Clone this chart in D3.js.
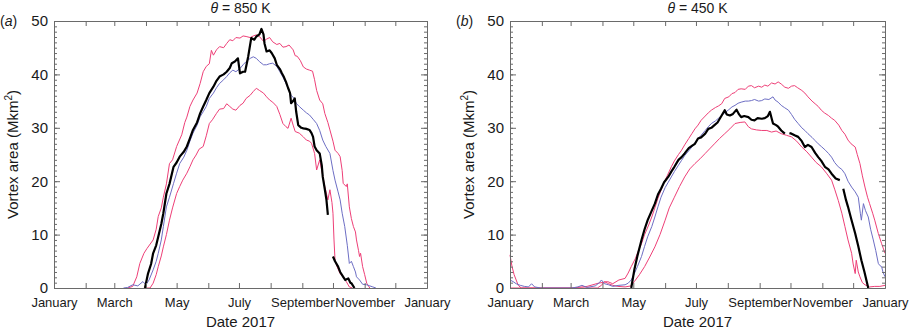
<!DOCTYPE html>
<html><head><meta charset="utf-8">
<script src="https://cdn.jsdelivr.net/npm/d3@7"></script>
<style>
body{margin:0;background:#fff;}
svg{display:block;font-family:"Liberation Sans",Arial,Helvetica,sans-serif;}
</style></head>
<body><svg id="chart" width="915" height="331"></svg>
<script>
// ---------- DATA (day of year 2017, vortex area in Mkm²) ----------
const monthLabels = ["January","March","May","July","September","November","January"];
const yTicks = [0,10,20,30,40,50];
const panelTitles = ["850 K","450 K"];
const panelLetters = ["a","b"];

// Panel (a) θ = 850 K
const a_upper = [[72,0],[77,0.3],[81,2.1],[84,4.6],[88,6.5],[91,7.4],[97,9],[100,11],[102,13.4],[105,15],[107,17],[110,19.5],[113,23.3],[116,24],[120,26.5],[125,28.7],[128,31],[130,32],[133,34],[136,35.2],[140,36.5],[143,38.3],[146,40.5],[149,41.5],[152,42],[154,44.5],[156,43.6],[159,44.6],[162,45.2],[166,45],[169,45.8],[172,46.5],[175,46.3],[178,46.9],[182,46.8],[185,47.2],[188,47.1],[192,46.9],[195,47.2],[198,47.4],[201,47.1],[205,46.2],[208,46.6],[211,46.9],[214,46.1],[218,45.6],[221,45.8],[224,45.1],[227,45.2],[230,45.5],[234,44.6],[236,43.5],[238,43.4],[241,42.6],[244,41.4],[247,41],[250,40.8],[253,40.6],[255,39],[257,37],[260,35.2],[263,34.5],[265,32.7],[268,31],[270,29.6],[273,27.5],[275,25.8],[278,25.2],[280,24.6],[282,22],[283,19.6],[286,19],[287,19.5],[289,15.2],[291,13],[293,11.5],[295,10.5],[296,9],[298,7],[299,5.9],[300,6.5],[302,4],[304,2.5],[306,0.9],[309,0]];
const a_lower = [[88,0],[94,0],[97,0.9],[100,2.5],[102,4],[105,6],[107,7.7],[110,10],[113,12.7],[116,15],[120,17.7],[123,19],[126,20.2],[130,21.5],[133,22.7],[136,24],[139,24.9],[142,26],[146,26.5],[149,28.5],[152,30.8],[155,31.5],[159,32.7],[162,33.5],[166,33.6],[169,34.5],[172,34],[175,33.5],[178,33.3],[182,34.2],[185,34.6],[188,35.5],[192,36.1],[195,36.8],[198,37.4],[201,37],[205,36.5],[208,35.8],[211,35.2],[214,34.8],[218,34],[221,32.5],[224,30.8],[227,30.2],[229,29.9],[232,31.8],[234,30.5],[236,29.3],[240,29],[244,28.3],[247,27.7],[250,27.5],[252,27.1],[255,25.2],[257,22.1],[260,24],[262,22],[265,19],[268,16.5],[270,18.4],[272,16],[273,14],[274,9],[275,5.2],[277,4],[280,2.7],[283,2],[286,1.2],[289,0.2],[292,0]];
const a_mean = [[68,0],[72,0.1],[77,0.6],[82,0.4],[87,1.2],[90,0.6],[93,1.5],[97,3.4],[100,5],[102,6.5],[105,9],[107,11.5],[110,15.2],[113,17],[117,19.6],[120,21.5],[123,23.3],[127,24.5],[130,25.8],[133,27.5],[136,29],[140,30.5],[143,32.1],[146,33],[149,34],[152,35.5],[156,36.5],[159,37.5],[162,38.3],[166,39],[169,39.6],[172,40.3],[175,40.8],[178,40.5],[182,41.1],[185,41.8],[188,42.4],[192,43],[195,43.3],[198,43],[201,42.4],[205,41.8],[208,41.8],[211,42],[214,42.1],[218,41.5],[221,40.5],[224,39.5],[227,38.3],[230,37],[232,36.1],[235,35.5],[237,34.6],[240,34],[244,33.3],[247,32.8],[250,32.4],[254,31.5],[257,30.8],[260,29.5],[263,27.7],[266,26.5],[270,25.2],[273,22],[275,20.2],[278,18],[280,16.5],[282,14],[284.5,11.5],[287,8],[289,4.6],[291,5],[293,4],[295,3],[296,2.1],[299,1.5],[302,0.7],[306,0.6],[309,0.4],[312,0.2],[315,0]];
const a_2017 = [[89,0],[92,2.7],[95,4.5],[97,6.5],[100,8],[102,9.6],[105,12],[107,14],[110,17.7],[113,19.5],[117,22.7],[120,23.5],[123,24.6],[127,25.5],[130,26.5],[133,28],[136,29.6],[140,31],[143,32.7],[146,34],[149,35.2],[152,36.5],[156,37.7],[159,38.8],[162,39.6],[166,40],[169,40.5],[172,41.2],[174,42.1],[177,42.4],[180,43],[182,40.2],[185,40.5],[187,40.5],[190,43.3],[193,46.8],[196,46.5],[198,47.1],[201,47.5],[203,48.5],[205,47.5],[206,45.8],[208,44.3],[211,44.5],[213,44],[216,43],[218,41.8],[221,41],[223,40.2],[225,39.5],[227,38.6],[229,37.5],[231,36.5],[232,34.6],[234,35],[235.6,35.5],[237,33],[239,30.5],[242,30],[244,29.9],[247,29.8],[250,29.6],[252,29],[253.5,28.3],[255,26.5],[257,25.8],[260,25.2],[262,23],[263,20.8],[265,18.5],[266.6,16.5],[268,13.7],[270,null],[273,5.9],[275,5],[278,4],[280,3],[283,2.1],[285,1.5],[288,1.8],[290,1],[291,0.9],[294,0]];

// Panel (b) θ = 450 K
const b_upper = [[0,6.2],[2,4],[4,2.5],[6,1.5],[8,0.5],[11,0],[60,0],[75,0.3],[86,0.9],[95,1.2],[100,0.8],[106,1.5],[112,1.8],[115,2.8],[118,4],[122,5.5],[125,7],[128,8.3],[131,10],[135,11.8],[138,13.3],[141,15],[144,16.8],[147,18.3],[150,19.8],[153,21],[157,22.7],[160,23.8],[164,25],[167,25.8],[170,26.8],[174,28],[177,28.9],[180,29.8],[183,30.5],[186,31.4],[190,32.2],[193,32.8],[196,33.3],[200,33.8],[203,34.1],[206,34.5],[209,35.5],[213,35.8],[216,36.4],[219,36.6],[222,37.2],[225,37.3],[229,37.2],[232,37.8],[235,37.9],[238,37.5],[242,37.8],[245,37.6],[248,38],[251,37.8],[254.6,38.4],[258,38.2],[261,38.6],[264,38.2],[267.5,37.6],[271,37.4],[274,37.8],[277,37.9],[280,37.5],[284,37],[287,36.5],[290,35.8],[294,35],[297,34.5],[300,34],[303,33.3],[306,32.8],[310,32.3],[313,31.8],[316,31.4],[320,30.5],[323,29.5],[326,28.8],[329,27.7],[332,27],[336,26.4],[338,25],[340.6,23.3],[343,21],[345.5,18.9],[348,17],[350,15.8],[353,14],[355,12.7],[358.5,10.2],[361.7,8.3],[365,6.5]];
const b_lower = [[0,0],[85,0],[89,0.5],[92,1.2],[96,0.8],[100,0.5],[105,0.3],[112,0.2],[118,0.4],[121,1.2],[126,2.5],[131,4],[136,5.8],[141,7.7],[146,10],[151,12.7],[155,15],[160,17],[165,19],[170,20.8],[175,22.3],[180,23.3],[185,24.2],[190,25.2],[195,26.2],[199,27],[204,28],[209,28.9],[214,29.8],[219,30.8],[224,31],[228.6,31.1],[232,30.2],[235,29.8],[240,29.6],[245,29.5],[250,29.5],[254.6,29.2],[259,29.4],[264,28.9],[269,28.6],[274,28.3],[279,27.5],[284,26.4],[289,25.5],[293.5,24.5],[298,23.5],[303,22.7],[308,21.5],[313,20.2],[316,18.5],[319.5,16.4],[323,14],[326,11.5],[329,9],[332.5,6.5],[334,4.5],[336,2.7],[337,5.2],[339,3],[340.6,2.1],[343,1],[345.5,0.6],[350,0.2],[355,0.3],[360,0.3],[365,0.5]];
const b_mean = [[0,1.5],[3,1.2],[6,0.8],[10,0.5],[14,0.3],[18,0.2],[21,0.8],[24,0.2],[30,0],[60,0],[66,0.2],[70,0.5],[75,0.1],[83,0.4],[87,1],[89,1.5],[92,0.8],[96,0.6],[100,0.3],[106,0.5],[112,0.6],[115,0.9],[118,1.5],[121,2.7],[124,4],[128,5.9],[131,7.8],[134,9.6],[138,11.5],[141,13.3],[144,15.2],[147,17],[151,18.8],[154,19.8],[157,20.8],[160,21.8],[164,23],[167,23.9],[170,24.8],[174,25.7],[177,26.4],[180,27.2],[183,27.9],[186,28.6],[190,29.5],[193,30.2],[196,30.8],[200,31.3],[203,31.8],[206,32.3],[209,32.8],[213,33.4],[216,33.9],[219,34.2],[222,34.6],[225,34.8],[229,35],[232,35],[235,35.1],[238,35.3],[242,35],[245,35.1],[248,35.4],[252,35.3],[256,35.8],[258,35.2],[261,34.8],[264,34.2],[267,33.8],[271,33.3],[274,32.5],[277,31.6],[280.5,30.8],[284,30],[287,29.5],[290,28.9],[294,28.2],[297,27.6],[300,27],[303,26.5],[307,25.8],[310,25.2],[313,24.5],[316,23.5],[319.5,22.7],[323,22.2],[326,21.4],[329,20],[332.5,18.9],[336,18],[339,17],[341,14],[342,12.7],[344,15.8],[346,14.5],[348.7,13.3],[351,11],[353.6,9],[356,7],[358.5,4.6],[360,4.2],[361.7,4],[363,3],[365,2.1]];
const b_2017 = [[118,0],[121,3.4],[124,6],[128,9],[131,11],[134,12.7],[138,14.5],[141,15.8],[144,17.5],[147,18.6],[150,19.8],[154,20.8],[157,21.8],[160,22.7],[164,24],[167,24.5],[170,25.2],[174,26.2],[177,26.6],[180,27],[183,28],[186,28.2],[190,28.9],[193,29.8],[196,30],[199,30.5],[202,31],[206,32.3],[209,33.3],[211,32.5],[214,32.3],[217,32.6],[220.5,33.4],[223,32.5],[225,32],[228,32.2],[232,32],[235,31.5],[238,31.4],[241,31.8],[245,31.7],[248,31.8],[251,32.2],[253,33],[255,31.5],[256,30.8],[259,30.5],[261,30.2],[264,29.5],[267.5,28.9],[269,null],[272,29],[274,28.9],[277,28.6],[280.5,28.3],[284,27.5],[287,26.4],[290,26.8],[293.5,26.4],[297,25.3],[300,24.5],[303,23.8],[306.5,22.7],[310,22.2],[313,21.4],[317,20.5],[321,20.2],[323,null],[324.4,18.6],[327,16.5],[329,15.2],[332,13],[336,10.2],[339,7.8],[342,5.2],[345,3],[348.7,0]];

// ---------- DRAW ----------
const panels = [
  {letter: panelLetters[0], title: panelTitles[0], left: 54, right: 427, series: [a_upper, a_lower, a_mean, a_2017]},
  {letter: panelLetters[1], title: panelTitles[1], left: 510, right: 885, series: [b_upper, b_lower, b_mean, b_2017]}
];
const styles = [
  {stroke: "#ee3f77", width: 1},
  {stroke: "#ee3f77", width: 1},
  {stroke: "#6d6ec4", width: 1},
  {stroke: "#000000", width: 2.2}
];
const plotTop = 21, plotBottom = 288;
const svg = d3.select("#chart");
const t0 = new Date(Date.UTC(2017,0,1)), t1 = new Date(Date.UTC(2018,0,1));
const dayToDate = d => new Date(t0.getTime() + d*86400000);
const months = d3.utcMonth.range(t0, new Date(Date.UTC(2018,0,2)));

panels.forEach(p => {
  const x = d3.scaleUtc().domain([t0, t1]).range([p.left, p.right]);
  const y = d3.scaleLinear().domain([0, 50]).range([plotBottom, plotTop]);
  const g = svg.append("g");

  const line = d3.line()
    .defined(d => d[1] !== null)
    .x(d => x(dayToDate(d[0])))
    .y(d => y(d[1]));

  p.series.forEach((s, i) => {
    g.append("path").datum(s)
      .attr("fill", "none")
      .attr("stroke", styles[i].stroke)
      .attr("stroke-width", styles[i].width)
      .attr("stroke-linejoin", "round")
      .attr("d", line);
  });

  const axisColor = "#6a6a6a";
  const styleAxis = sel => {
    sel.select(".domain").attr("stroke", axisColor);
    sel.selectAll(".tick line").attr("stroke", axisColor);
    sel.selectAll("text").attr("fill", "#1a1a1a");
  };
  g.append("g").attr("transform", `translate(0,${plotBottom})`)
    .call(d3.axisBottom(x).tickValues(months).tickSizeInner(-5).tickSizeOuter(0).tickPadding(10)
      .tickFormat((d, i) => i % 2 === 0 ? monthLabels[i/2] : ""))
    .call(styleAxis)
    .selectAll("text").attr("font-size", 13);
  g.append("g").attr("transform", `translate(0,${plotTop})`)
    .call(d3.axisTop(x).tickValues(months).tickSizeInner(-5).tickSizeOuter(0).tickFormat(""))
    .call(styleAxis);
  g.append("g").attr("transform", `translate(${p.left},0)`)
    .call(d3.axisLeft(y).tickValues(yTicks).tickSizeInner(-6).tickSizeOuter(0).tickPadding(6))
    .call(styleAxis)
    .selectAll("text").attr("font-size", 15);
  g.append("g").attr("transform", `translate(${p.left},0)`)
    .call(d3.axisLeft(y).tickValues(d3.range(0, 51, 1)).tickSizeInner(-3).tickSizeOuter(0).tickFormat(""))
    .call(styleAxis);
  g.append("g").attr("transform", `translate(${p.right},0)`)
    .call(d3.axisRight(y).tickValues(yTicks).tickSizeInner(-6).tickSizeOuter(0).tickFormat(""))
    .call(styleAxis);
  g.append("g").attr("transform", `translate(${p.right},0)`)
    .call(d3.axisRight(y).tickValues(d3.range(0, 51, 1)).tickSizeInner(-3).tickSizeOuter(0).tickFormat(""))
    .call(styleAxis);

  const cx = (p.left + p.right) / 2;
  const tt = g.append("text").attr("x", cx).attr("y", 13).attr("text-anchor", "middle")
    .attr("font-size", 14).attr("fill", "#1a1a1a");
  tt.append("tspan").attr("font-style", "italic").text("θ");
  tt.append("tspan").text(" = " + p.title);
  const lt = g.append("text").attr("x", p.left - 54).attr("y", 26).attr("font-size", 14).attr("fill", "#1a1a1a");
  lt.append("tspan").text("(");
  lt.append("tspan").attr("font-style", "italic").text(p.letter);
  lt.append("tspan").text(")");
  g.append("text").attr("x", cx).attr("y", 327).attr("text-anchor", "middle")
    .attr("font-size", 15).attr("fill", "#1a1a1a").text("Date 2017");
  const yl = g.append("text").attr("transform", `translate(${p.left - 36},${(plotTop + plotBottom) / 2}) rotate(-90)`)
    .attr("text-anchor", "middle").attr("font-size", 15).attr("fill", "#1a1a1a");
  yl.append("tspan").text("Vortex area (Mkm");
  yl.append("tspan").attr("font-size", 10).attr("dy", -6).text("2");
  yl.append("tspan").attr("dy", 6).text(")");
});
</script></body></html>
